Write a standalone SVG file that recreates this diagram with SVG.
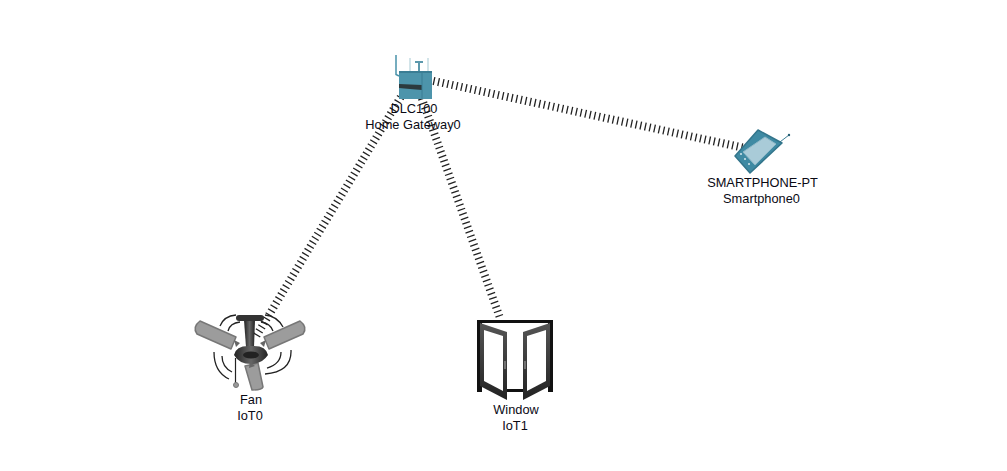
<svg xmlns="http://www.w3.org/2000/svg" width="1007" height="471" viewBox="0 0 1007 471">
<defs>
<style>
text{font-family:"Liberation Sans",Arial,sans-serif;font-size:12.8px;fill:#0a0a14;text-anchor:middle}
.w{fill:none;stroke:#222;stroke-width:8;stroke-dasharray:1.3 3.4}
.arc{fill:none;stroke:#222;stroke-width:1.3}
.blade{fill:#9c9c9c;stroke:#777;stroke-width:1.500;stroke-linejoin:round}
</style>
<linearGradient id="metal" x1="0" x2="1" y1="0" y2="0"><stop offset="0" stop-color="#222"/><stop offset=".5" stop-color="#666"/><stop offset="1" stop-color="#222"/></linearGradient>
<linearGradient id="door" x1="0" x2="0" y1="0" y2="1"><stop offset="0" stop-color="#555"/><stop offset="1" stop-color="#222"/></linearGradient>
</defs>
<rect width="1007" height="471" fill="#fff"/>
<g id="connectors">
<path class="w" d="M415 77L757 150.600"/>
<path class="w" d="M408 85L255 338"/>
<path class="w" d="M417 85L500 318"/>
</g>
<g id="gateway">
<path d="M396 55V74.500L399 76" fill="none" stroke="#4a93aa" stroke-width="1.500"/>
<path d="M410 58V71M428 58V71" stroke="#c4dbe2" stroke-width="1.500"/>
<path d="M419 63V71M415 62H423" stroke="#5c98ac" stroke-width="2"/>
<rect x="399" y="71" width="33" height="28" fill="#4d94ab"/>
<rect x="399" y="71" width="33" height="2" fill="#3b7d94"/>
<path d="M399 84L422 85V90L410 89L399 88Z" fill="#2c3a3e"/>
<path d="M422 73V99" stroke="#3b7d94"/>
<text x="414" y="113">DLC100</text>
<text x="413" y="129">Home Gateway0</text>
</g>
<g id="smartphone">
<path d="M776 145L789 135" stroke="#3d8097"/>
<circle cx="789" cy="135" r="1.200" fill="#245e73"/>
<path d="M758 130L782 143L750 173L735 156Z" fill="#3f8aa3" stroke="#33758b" stroke-width="1.500" stroke-linejoin="round"/>
<path d="M765 137L776 144L755 165L743 152Z" fill="#a9cbd8" stroke="#8fb8c7" stroke-linejoin="round"/>
<circle cx="741" cy="154" r="1" fill="#d5e6ec"/><circle cx="745" cy="159" r="1" fill="#d5e6ec"/><circle cx="749" cy="164" r="1" fill="#d5e6ec"/>
<text x="762.500" y="187">SMARTPHONE-PT</text>
<text x="761.500" y="203">Smartphone0</text>
</g>
<g id="fan">
<path class="arc" d="M220 326Q224 316 236 315M228 331Q230 323 240 322M283 327Q277 316 265 315M273 331Q270 323 261 322M214 352Q214 372 229 379M222 356Q222 367 232 372M291 350Q292 372 265 374M281 352Q281 364 267 368"/>
<path class="blade" d="M200 321L236 337L231 349L197 334Q192 327 200 321Z"/>
<path class="blade" d="M300 321L264 337L269 349L303 334Q308 327 300 321Z"/>
<path class="blade" d="M245 366L258 363L263 387Q262 390 252 390Z"/>
<path d="M234 340L240 343L236 347ZM266 340L260 343L264 347ZM250 362L255 366L249 368Z" fill="#666"/>
<path d="M244 320H255L254 347H246Z" fill="url(#metal)"/>
<rect x="236" y="315" width="28" height="6" rx="3" fill="#333"/>
<path d="M234 355Q236 345 251 346Q266 345 268 355Q262 364 251 364Q239 364 234 355Z" fill="url(#metal)"/>
<ellipse cx="251" cy="355" rx="8" ry="3.500" fill="#222"/>
<path d="M235.500 358V383" stroke="#222" stroke-width="1.200"/>
<circle cx="236" cy="385" r="2.500" fill="#999" stroke="#777"/>
<text x="251" y="404">Fan</text>
<text x="250" y="420">IoT0</text>
</g>
<g id="window">
<path d="M477 320H553V392H548V323H482V392H477Z" fill="#111"/>
<rect x="505" y="389" width="21" height="3" fill="#111"/>
<path d="M480 323L507 332V400L480 386Z" fill="url(#door)"/>
<path d="M484 330L503 336V391L484 381Z" fill="#fff"/>
<path d="M550 323L523 332V400L550 386Z" fill="url(#door)"/>
<path d="M546 330L527 336V391L546 381Z" fill="#fff"/>
<path d="M505 361V369M525 361V369" stroke="#aaa" stroke-width="1"/>
<text x="516" y="414">Window</text>
<text x="515" y="430">IoT1</text>
</g>
</svg>
